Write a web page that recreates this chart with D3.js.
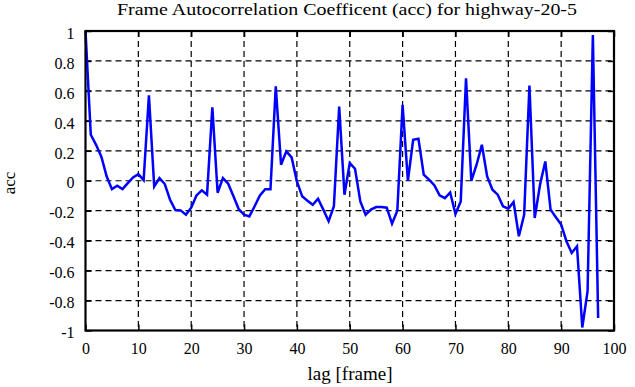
<!DOCTYPE html>
<html><head><meta charset="utf-8">
<script src="https://cdn.jsdelivr.net/npm/d3@7"></script>
<style>body{margin:0;background:#fff}svg{display:block}svg text{font-family:"Liberation Serif","DejaVu Serif",serif !important;fill:#000}</style>
</head><body>
<svg id="c" width="635" height="387"></svg>
<script>
const title = "Frame Autocorrelation Coefficent (acc) for highway-20-5";
const xLabel = "lag [frame]";
const yLabel = "acc";
const xTicks = [0,10,20,30,40,50,60,70,80,90,100];
const yTicks = [-1,-0.8,-0.6,-0.4,-0.2,0,0.2,0.4,0.6,0.8,1];
const yTickLabels = ["-1","-0.8","-0.6","-0.4","-0.2","0","0.2","0.4","0.6","0.8","1"];
const acc = [1.0,0.307,0.24,0.16,0.03,-0.056,-0.033,-0.056,-0.016,0.022,
  0.044,0.004,0.57,-0.038,0.018,-0.022,-0.127,-0.196,-0.198,-0.227,
  -0.18,-0.098,-0.064,-0.093,0.49,-0.08,0.018,-0.02,-0.104,-0.19,
  -0.227,-0.238,-0.17,-0.098,-0.056,-0.056,0.63,0.107,0.196,0.156,
  -0.004,-0.104,-0.133,-0.16,-0.12,-0.193,-0.27,-0.17,0.496,-0.093,
  0.118,0.08,-0.138,-0.227,-0.193,-0.176,-0.176,-0.18,-0.287,-0.2,
  0.507,0.0,0.273,0.28,0.04,0.007,-0.03,-0.098,-0.116,-0.078,
  -0.222,-0.138,0.684,0.0,0.107,0.24,0.029,-0.06,-0.093,-0.171,
  -0.187,-0.142,-0.371,-0.227,0.636,-0.249,-0.027,0.129,-0.193,-0.244,
  -0.293,-0.404,-0.482,-0.438,-0.98,-0.738,0.973,-0.916];

const svg = d3.select("#c");
const L = 85.5, R = 614, T = 31, B = 330.5;
const x = d3.scaleLinear().domain([0,100]).range([L,R]);
const y = d3.scaleLinear().domain([-1,1]).range([B,T]);

// grid
const g = svg.append("g");
g.selectAll("line.gx").data(xTicks.slice(1,-1)).join("line")
  .attr("x1",d=>x(d)).attr("x2",d=>x(d)).attr("y1",T).attr("y2",B)
  .attr("stroke","#000").attr("stroke-width",1.2).attr("stroke-dasharray","6,4");
g.selectAll("line.gy").data(yTicks.slice(1,-1)).join("line")
  .attr("y1",d=>y(d)).attr("y2",d=>y(d)).attr("x1",L).attr("x2",R)
  .attr("stroke","#000").attr("stroke-width",1.2).attr("stroke-dasharray","6,4");

// axes with inward ticks
const ax = (sel, axis) => { sel.call(axis); sel.select(".domain").remove(); sel.selectAll(".tick line").attr("stroke","#000").attr("stroke-width",1.5); };
svg.append("g").attr("transform",`translate(0,${B})`).call(s=>ax(s,d3.axisBottom(x).tickValues(xTicks).tickSize(-6).tickPadding(12).tickFormat(d3.format("d"))))
  .selectAll("text").attr("font-size",16);
svg.append("g").attr("transform",`translate(0,${T})`).call(s=>ax(s,d3.axisTop(x).tickValues(xTicks).tickSize(-6).tickFormat("")));
svg.append("g").attr("transform",`translate(${L},0)`).call(s=>ax(s,d3.axisLeft(y).tickValues(yTicks).tickSize(-6).tickPadding(11).tickFormat((d,i)=>yTickLabels[i])))
  .selectAll("text").attr("font-size",16).attr("dy","0.7em").attr("y",-4);
svg.append("g").attr("transform",`translate(${R},0)`).call(s=>ax(s,d3.axisRight(y).tickValues(yTicks).tickSize(-6).tickFormat("")));

// data line
svg.append("path").datum(acc)
  .attr("fill","none").attr("stroke","#0000ff").attr("stroke-width",2.5).attr("stroke-linejoin","miter")
  .attr("d", d3.line().x((d,i)=>x(i)).y(d=>y(d)));

// border
svg.append("rect").attr("x",L).attr("y",T).attr("width",R-L).attr("height",B-T)
  .attr("fill","none").attr("stroke","#000").attr("stroke-width",2.2);

// labels
svg.append("text").attr("x",347).attr("y",15).attr("text-anchor","middle").attr("font-size",16)
  .attr("textLength",460).attr("lengthAdjust","spacingAndGlyphs").text(title);
svg.append("text").attr("x",350).attr("y",380).attr("text-anchor","middle").attr("font-size",18)
  .attr("textLength",85).attr("lengthAdjust","spacingAndGlyphs").text(xLabel);
svg.append("text").attr("transform","translate(15,183) rotate(-90)").attr("text-anchor","middle").attr("font-size",17).text(yLabel);
</script>
</body></html>
